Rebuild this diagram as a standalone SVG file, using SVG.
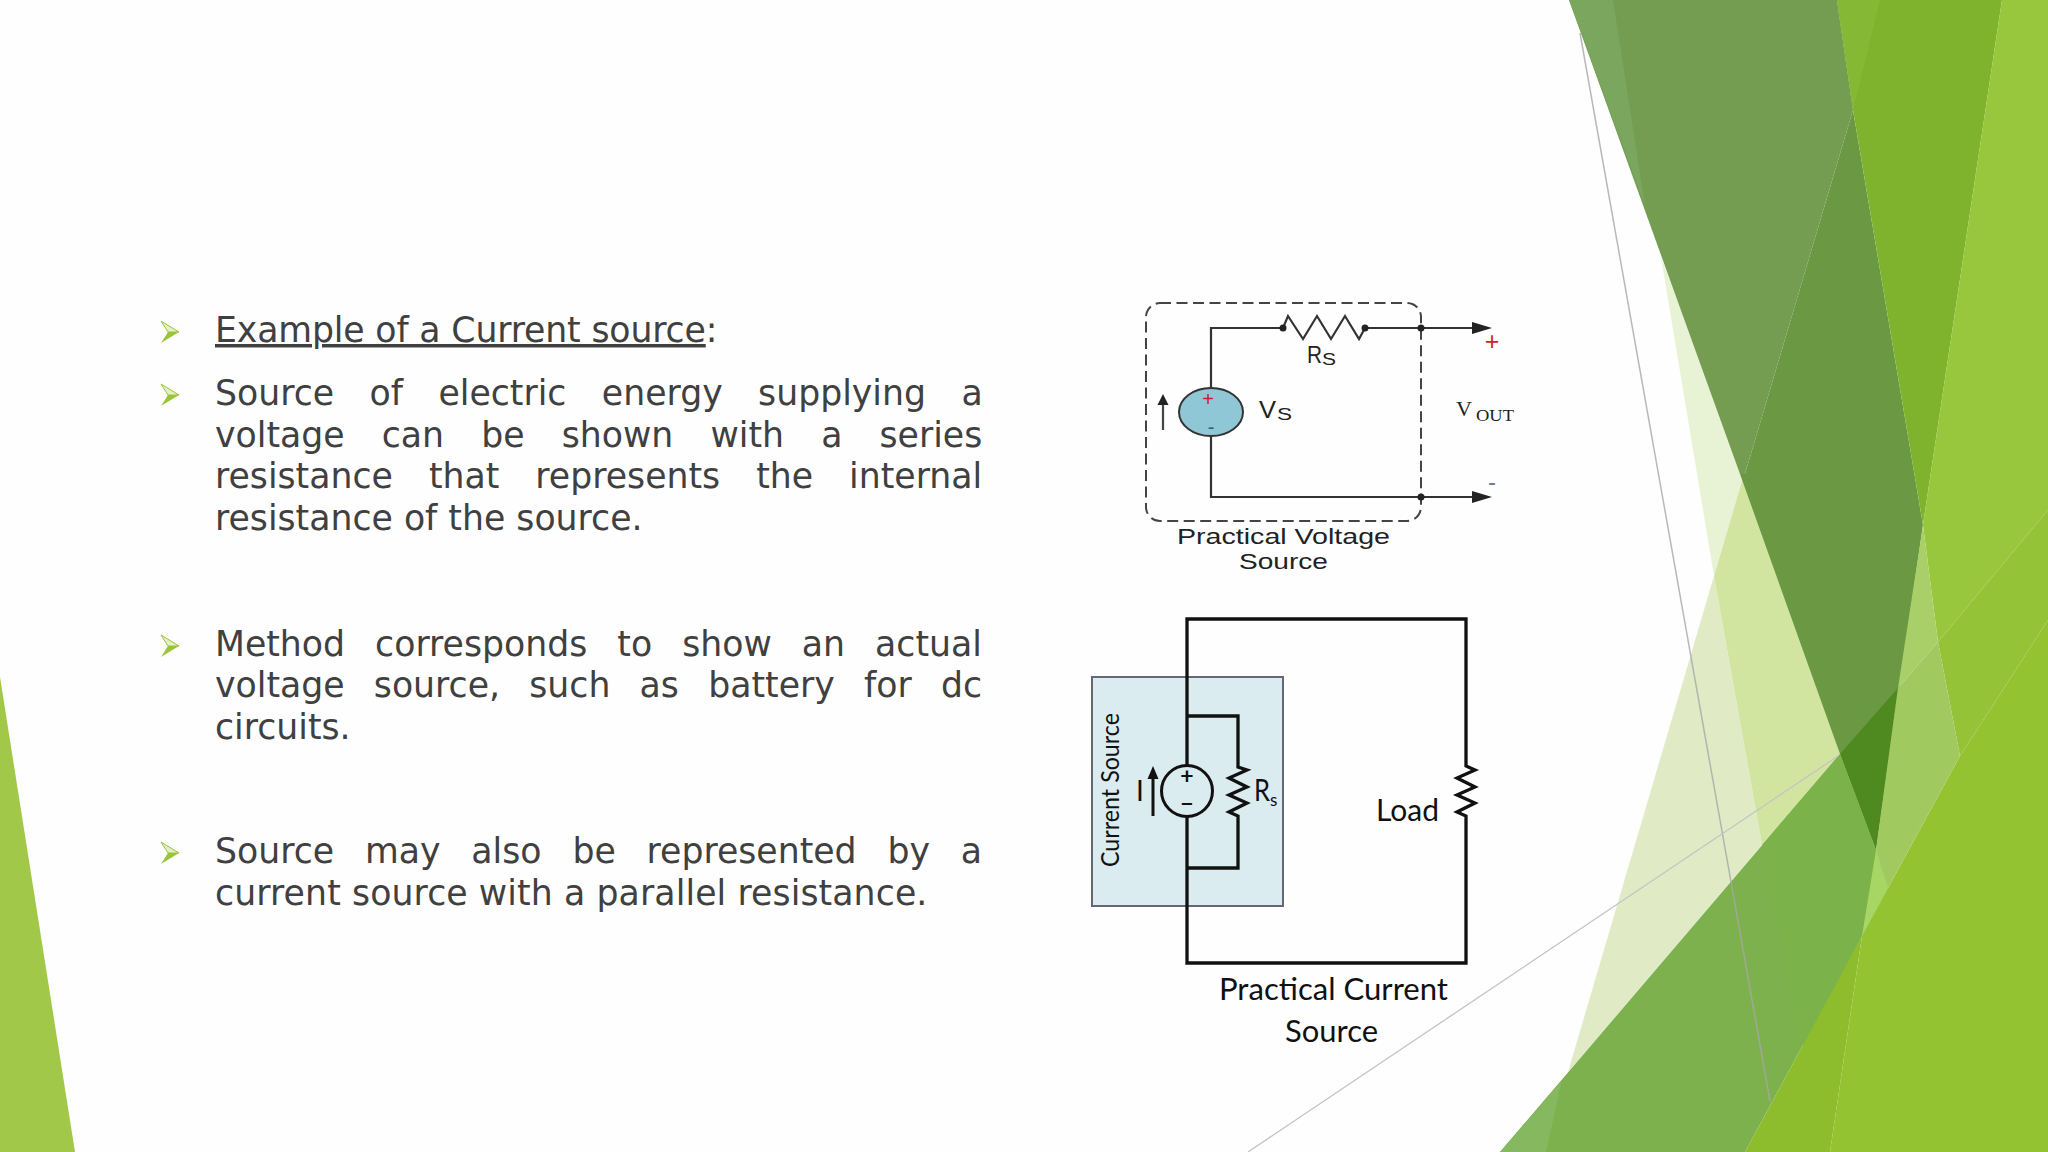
<svg xmlns="http://www.w3.org/2000/svg" width="2048" height="1152" viewBox="0 0 2048 1152">
<style>
.b{font-family:"DejaVu Sans","Liberation Sans",sans-serif;font-size:34.7px;fill:#404040}
.a{font-family:"Liberation Sans",Arial,sans-serif;fill:#222}
.t{font-family:"Liberation Serif",serif;fill:#222}
.c{font-family:Lato,"Open Sans",sans-serif;fill:#111}
.w{fill:none;stroke:#333;stroke-width:2.2}
.k{fill:none;stroke:#111;stroke-width:3.3;stroke-linejoin:miter}
</style>
<defs>
<g id="bullet"><polygon points="161,-11 179,0 168,0" fill="#e3efc4" stroke="#9ac53a" stroke-width="1"/><polygon points="161,11 179,0 168,0" fill="#9ac53a"/></g>
</defs>
<rect width="2048" height="1152" fill="#fefefe"/>
<g id="background">
<polygon points="0,677 75,1152 0,1152" fill="#a2c84a"/>
<polygon points="1661,257 1744,474 1714,576" fill="#e8f3d5"/>
<polygon points="1714,576 1762,845 1568,1072" fill="#e0ebc6"/>
<polygon points="1714,576 1744,474 1840,754 1762,845" fill="#d1e5a0"/>
<polygon points="1569,0 1837,0 1853,110 1745,474 1740,474" fill="#749d51"/>
<polygon points="1569,0 1613,0 1645,206" fill="#7aa65e"/>
<polygon points="1745,474 1853,110 1923,525 1876,850 1840,754 1740,474" fill="#6a9843"/>
<polygon points="1840,754 1898,688 1876,850" fill="#4f8a20"/>
<polygon points="1837,0 2002,0 1923,525 1853,110" fill="#80b32d"/>
<polygon points="1837,0 1880,0 1853,110" fill="#85b835"/>
<polygon points="2002,0 2048,0 2048,510 1938,642 1923,525" fill="#98c63c"/>
<polygon points="1938,642 2048,510 2048,620 1960,756" fill="#95c337"/>
<polygon points="1500,1152 1840,754 1876,850 1888,888 1862,936 1745,1152" fill="#7db14e"/>
<polygon points="1500,1152 1546,1152 1562,1080" fill="#85b85f"/>
<polygon points="1762,845 1840,754 1876,850 1888,888 1862,936 1806,1045 1799,1045" fill="#7bb24a"/>
<polygon points="1745,1152 1862,936 1830,1152" fill="#8dbc2d"/>
<polygon points="1862,936 1888,888 1960,756 2048,620 2048,1152 1830,1152" fill="#94c332"/>
<polygon points="1923,525 1938,642 1898,688" fill="#a9d068"/>
<polygon points="1898,688 1938,642 1960,756 1888,888 1876,850" fill="#a0c960"/>
<polygon points="1876,850 1888,888 1862,936" fill="#a8d665"/>
<line x1="1580" y1="33" x2="1770" y2="1101" stroke="#a8a8a8" stroke-width="1.5" opacity="0.8"/>
<line x1="1248" y1="1152" x2="1838" y2="756" stroke="#c4c4c4" stroke-width="1.3"/>
</g>
<g id="bullets">
<use href="#bullet" y="332"/><use href="#bullet" y="395"/><use href="#bullet" y="646"/><use href="#bullet" y="853"/>
</g>
<g id="body-text">
<text class="b" x="215" y="342" letter-spacing="-0.15"><tspan text-decoration="underline">Example of a Current source</tspan>:</text>
<text class="b" x="215" y="405" word-spacing="24.4">Source of electric energy supplying a</text>
<text class="b" x="215" y="447" word-spacing="26.1">voltage can be shown with a series</text>
<text class="b" x="215" y="488" word-spacing="25">resistance that represents the internal</text>
<text class="b" x="215" y="530">resistance of the source.</text>
<text class="b" x="215" y="656" word-spacing="19">Method corresponds to show an actual</text>
<text class="b" x="215" y="697" word-spacing="18.2">voltage source, such as battery for dc</text>
<text class="b" x="215" y="739">circuits.</text>
<text class="b" x="215" y="863" word-spacing="19.8">Source may also be represented by a</text>
<text class="b" x="215" y="905" letter-spacing="0.1">current source with a parallel resistance.</text>
</g>
<g id="voltage-source">
<rect x="1146" y="303" width="275" height="218" rx="14" fill="none" stroke="#444" stroke-width="2" stroke-dasharray="11 5.5"/>
<ellipse cx="1211" cy="412" rx="32" ry="24" fill="#8fc7d7" stroke="#333" stroke-width="2"/>
<text x="1208" y="406" font-family="Liberation Sans,sans-serif" font-size="20" fill="#c8202a" text-anchor="middle">+</text>
<text x="1211" y="434" font-family="Liberation Sans,sans-serif" font-size="20" fill="#33606c" text-anchor="middle">-</text>
<text class="a" x="1259" y="418" font-size="24" textLength="17" lengthAdjust="spacingAndGlyphs">V</text>
<text class="a" x="1277" y="420" font-size="16" textLength="15" lengthAdjust="spacingAndGlyphs">S</text>
<text class="a" x="1307" y="363" font-size="23" textLength="15" lengthAdjust="spacingAndGlyphs">R</text>
<text class="a" x="1322" y="365" font-size="16" textLength="14" lengthAdjust="spacingAndGlyphs">S</text>
<text class="t" x="1456" y="416" font-size="21" textLength="16" lengthAdjust="spacingAndGlyphs">V</text>
<text class="t" x="1476" y="421" font-size="17" textLength="38" lengthAdjust="spacingAndGlyphs">OUT</text>
<text x="1492" y="350" font-family="Liberation Sans,sans-serif" font-size="25" fill="#d02028" text-anchor="middle">+</text>
<text x="1492" y="490" font-family="Liberation Sans,sans-serif" font-size="24" fill="#6a7f9a" text-anchor="middle">-</text>
<text class="a" x="1177" y="544" font-size="22" textLength="213" lengthAdjust="spacingAndGlyphs">Practical Voltage</text>
<text class="a" x="1239" y="569" font-size="22" textLength="89" lengthAdjust="spacingAndGlyphs">Source</text>
</g>
<g id="current-source">
<rect x="1092" y="677" width="191" height="229" fill="#daecf0" stroke="#667" stroke-width="2"/>
<circle cx="1187" cy="791" r="25.500" fill="none" stroke="#111" stroke-width="3"/>
<text x="1187" y="784" font-family="Lato,sans-serif" font-size="23" font-weight="700" fill="#111" text-anchor="middle">+</text>
<text x="1187" y="812" font-family="Lato,sans-serif" font-size="23" font-weight="700" fill="#111" text-anchor="middle">−</text>
<text class="c" x="1136" y="801" font-size="28">I</text>
<text class="c" x="1254" y="801" font-size="30" textLength="16" lengthAdjust="spacingAndGlyphs">R</text>
<text class="c" x="1270" y="806" font-size="17">s</text>
<text class="c" x="0" y="0" font-size="25" textLength="154" lengthAdjust="spacingAndGlyphs" transform="translate(1119 867) rotate(-90)">Current Source</text>
</g>
<g id="load">
<text class="c" x="1376" y="821" font-size="30" textLength="63" lengthAdjust="spacingAndGlyphs">Load</text>
</g>
<g id="caption-current">
<text class="c" x="1219" y="1000" font-size="30" textLength="229" lengthAdjust="spacingAndGlyphs">Practical Current</text>
<text class="c" x="1285" y="1042" font-size="30" textLength="93" lengthAdjust="spacingAndGlyphs">Source</text>
</g>
<g id="connectors">
<path class="w" d="M1211 388V328H1283L1288 316L1303 339L1317 316L1331 339L1345 316L1359 339L1365 328H1475"/>
<path class="w" d="M1211 436V497H1475"/>
<polygon points="1472,322 1492,328 1472,334" fill="#222"/>
<polygon points="1472,491 1492,497 1472,503" fill="#222"/>
<circle cx="1283" cy="328" r="3.500" fill="#222"/><circle cx="1365" cy="328" r="3.500" fill="#222"/>
<circle cx="1421" cy="328" r="3.500" fill="#222"/><circle cx="1421" cy="497" r="3.500" fill="#222"/>
<line x1="1163" y1="430" x2="1163" y2="400" stroke="#444" stroke-width="2.2"/>
<polygon points="1157.500,405 1163,394 1168.500,405" fill="#222"/>
<path class="k" d="M1187 765V619H1466V766L1475 770L1457 778L1475 787L1457 795L1475 803L1457 812L1466 816V963H1187V817"/>
<path class="k" d="M1187 716H1238V767L1247 770L1229 778L1247 787L1229 795L1247 803L1229 812L1238 816V868H1187"/>
<line x1="1153" y1="816" x2="1153" y2="775" stroke="#111" stroke-width="3"/>
<polygon points="1147.500,779 1153,766 1158.500,779" fill="#111"/>
</g>
</svg>
